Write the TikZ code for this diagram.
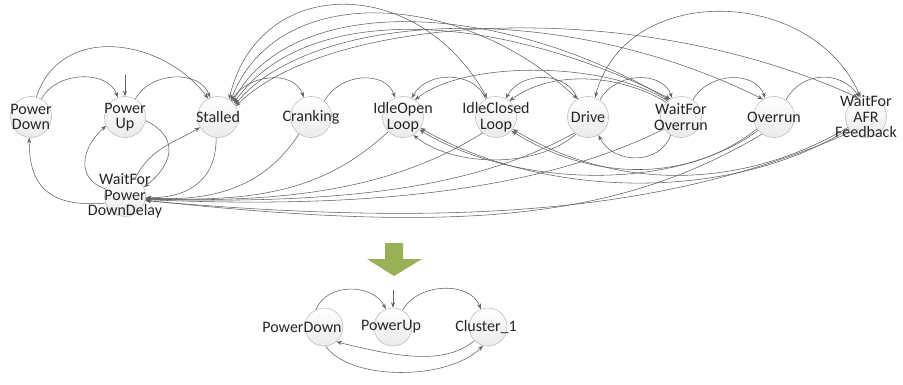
\documentclass[tikz,border=0pt]{standalone}
\usepackage{fontspec}
\setmainfont{Carlito}
\usetikzlibrary{arrows.meta}
\definecolor{olv}{RGB}{152,176,86}
\begin{document}
\begin{tikzpicture}[x=1pt,y=-1pt,
  st/.style={circle,draw=gray!50,line width=0.6pt,top color=white,bottom color=gray!16,minimum size=41pt,inner sep=0pt},
  bst/.style={st,minimum size=38pt},
  lbl/.style={align=center,font=\fontsize{16}{15.5}\selectfont,text=black!85,inner sep=0pt},
  tr/.style={draw=black!62,line width=0.55pt,-{Stealth[length=5.5pt,width=4pt]}},
  trb/.style={draw=black!62,line width=0.55pt,{Stealth[length=5.5pt,width=4pt]}-{Stealth[length=5.5pt,width=4pt]}}]
\useasboundingbox (0,0) rectangle (903,385);
% states (top diagram)
\node[st] (PD) at (31,117) {};
\node[st] (PU) at (125,117) {};
\node[st] (St) at (218,117) {};
\node[st] (Cr) at (311,117) {};
\node[st] (IOL) at (403,117) {};
\node[st] (ICL) at (496,117) {};
\node[st] (Dr) at (588,117) {};
\node[st] (WFO) at (681,117) {};
\node[st] (Ov) at (774,117) {};
\node[st] (WFA) at (866,117) {};
\node[st] (WPD) at (125,196) {};
% states (bottom diagram)
\node[bst] (BPD) at (324,327) {};
\node[bst] (BPU) at (393,327) {};
\node[bst] (BC) at (488,327) {};
% initial markers
\coordinate (PUi) at (125,75);
\coordinate (BPUi) at (393,290);
\draw[tr] (PUi) -- (PU.north);
\draw[tr] (BPUi) -- (BPU.north);
% short arcs above
\draw[tr] (PD.60) .. controls +(15,-28) and +(-10,-28) .. (PU.110);
\draw[tr] (PU.60) .. controls +(15,-28) and +(-10,-28) .. (St.112);
\draw[tr] (PD.75) .. controls +(25,-75) and +(-45,-60) .. (St.118);
\draw[tr] (St.50) .. controls +(15,-28) and +(-10,-28) .. (Cr.110);
\draw[tr] (Cr.50) .. controls +(15,-28) and +(-10,-28) .. (IOL.112);
\draw[tr] (ICL.120) .. controls +(-10,-28) and +(15,-28) .. (IOL.65);
\draw[tr] (Dr.120) .. controls +(-10,-28) and +(15,-28) .. (ICL.62);
\draw[tr] (Dr.55) .. controls +(15,-28) and +(-10,-28) .. (WFO.115);
\draw[tr] (WFO.55) .. controls +(15,-28) and +(-10,-28) .. (Ov.115);
\draw[tr] (Ov.55) .. controls +(15,-28) and +(-20,-28) .. (WFA.108);
\draw[tr] (WFO.130) .. controls +(-60,-40) and +(50,-40) .. (IOL.55);
\draw[tr] (WFO.135) .. controls +(-50,-30) and +(40,-30) .. (ICL.50);
\draw[trb] (WFA.105) .. controls +(-50,-112) and +(30,-115) .. (Dr.70);
% long arcs from Stalled
\draw[trb] (St.58) .. controls +(30,-125) and +(-70,-125) .. (ICL.115);
\draw[trb] (St.52) .. controls +(45,-118) and +(-120,-112) .. (Dr.120);
\draw[trb] (St.46) .. controls +(60,-110) and +(-170,-100) .. (WFO.125);
\draw[trb] (St.41) .. controls +(70,-100) and +(-180,-90) .. (WFO.120);
\draw[trb] (St.36) .. controls +(80,-95) and +(-200,-100) .. (Ov.122);
\draw[trb] (St.31) .. controls +(90,-90) and +(-230,-105) .. (WFA.112);
% arcs below
\draw[tr] (WFO.240) .. controls +(-10,30) and +(15,30) .. (Dr.300);
\draw[tr] (Dr.235) .. controls +(-40,35) and +(40,32) .. (IOL.300);
\draw[tr] (Ov.220) .. controls +(-80,60) and +(100,60) .. (IOL.322);
\draw[tr] (Ov.215) .. controls +(-70,55) and +(80,50) .. (ICL.318);
\draw[tr] (WFA.215) .. controls +(-120,75) and +(120,70) .. (IOL.328);
\draw[tr] (WFA.210) .. controls +(-110,65) and +(100,60) .. (ICL.324);
% into WaitForPowerDownDelay
\draw[tr] (St.265) .. controls +(0,45) and +(40,0) .. (WPD.355);
\draw[tr] (Cr.235) .. controls +(-30,45) and +(80,5) .. (WPD.355);
\draw[tr] (IOL.225) .. controls +(-60,55) and +(120,5) .. (WPD.354);
\draw[tr] (ICL.230) .. controls +(-80,50) and +(160,5) .. (WPD.352);
\draw[tr] (Dr.230) .. controls +(-100,55) and +(200,5) .. (WPD.351);
\draw[tr] (WFO.215) .. controls +(-120,60) and +(230,10) .. (WPD.350);
\draw[tr] (Ov.235) .. controls +(-150,90) and +(300,32) .. (WPD.348);
\draw[tr] (WFA.225) .. controls +(-180,80) and +(320,28) .. (WPD.347);
% out of / around WaitForPowerDownDelay
\draw[tr] (WPD.60) .. controls +(15,-30) and +(-25,15) .. (St.210);
\draw[tr] (PU.350) .. controls +(32,15) and +(32,-25) .. (WPD.25);
\draw[tr] (WPD.160) .. controls +(-30,-10) and +(-25,22) .. (PU.205);
\draw[tr] (WPD.200) .. controls +(-60,5) and +(0,45) .. (PD.265);
% bottom diagram arcs
\draw[tr] (BPD.115) .. controls +(12,-28) and +(-12,-25) .. (BPU.112);
\draw[tr] (BPU.60) .. controls +(15,-28) and +(-10,-28) .. (BC.112);
\draw[tr] (BC.225) .. controls +(-30,25) and +(60,15) .. (BPD.310);
\draw[tr] (BPD.275) .. controls +(25,35) and +(-35,35) .. (BC.255);
% green block arrow
\fill[olv] (385,243) -- (403,243) -- (403,259) -- (422,259) -- (394,276) -- (367,259) -- (385,259) -- cycle;
% labels
\node[lbl] (PDt) at (PD) {Power\\Down};
\node[lbl] (PUt) at (PU) {Power\\Up};
\node[lbl] (Stt) at (St) {Stalled};
\node[lbl] (Crt) at (Cr) {Cranking};
\node[lbl] (IOLt) at (IOL) {IdleOpen\\Loop};
\node[lbl] (ICLt) at (ICL) {IdleClosed\\Loop};
\node[lbl] (Drt) at (Dr) {Drive};
\node[lbl] (WFOt) at (WFO) {WaitFor\\Overrun};
\node[lbl] (Ovt) at (Ov) {Overrun};
\node[lbl] (WFAt) at (WFA) {WaitFor\\AFR\\Feedback};
\node[lbl] (WPDt) at (WPD) {WaitFor\\Power\\DownDelay};
\node[lbl] (BPDt) at (302,327) {PowerDown};
\node[lbl] (BPUt) at (391,327) {PowerUp};
\node[lbl] (BCt) at (486,327) {Cluster\_1};
\end{tikzpicture}
\end{document}
